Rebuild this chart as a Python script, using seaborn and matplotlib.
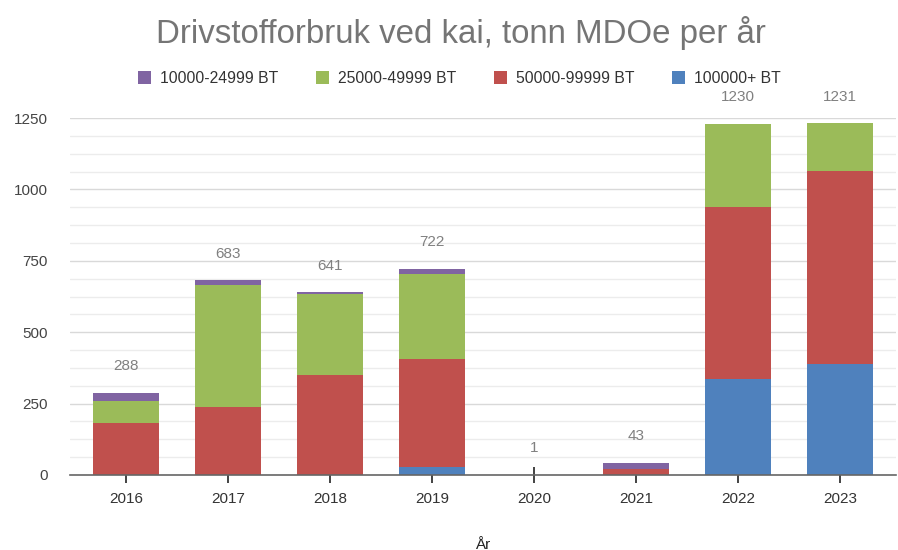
import matplotlib
matplotlib.use("Agg")
import matplotlib.pyplot as plt
import seaborn as sns
import pandas as pd
import numpy as np
from matplotlib.patches import Patch
from matplotlib.ticker import MultipleLocator

years = ["2016", "2017", "2018", "2019", "2020", "2021", "2022", "2023"]
series_names = ["10000-24999 BT", "25000-49999 BT", "50000-99999 BT", "100000+ BT"]
v_10k = [29, 18, 8, 19, 1, 22, 0, 0]
v_25k = [78, 426, 284, 297, 0, 0, 291, 168]
v_50k = [181, 239, 349, 379, 0, 21, 604, 675]
v_100k = [0, 0, 0, 27, 0, 0, 335, 388]
totals = [288, 683, 641, 722, 1, 43, 1230, 1231]
colors = ["#8064a2", "#9bbb59", "#c0504d", "#4f81bd"]

sns.set_theme(style="white")
plt.rcParams['font.family'] = ['Liberation Sans', 'DejaVu Sans']

df = pd.DataFrame({"year": years, "b": v_100k, "r": v_50k, "g": v_25k, "p": v_10k})
df["cum_b"] = df["b"]
df["cum_r"] = df["cum_b"] + df["r"]
df["cum_g"] = df["cum_r"] + df["g"]
df["cum_p"] = df["cum_g"] + df["p"]

fig = plt.figure(figsize=(8.98, 5.50), dpi=100)
ax = fig.add_axes([70/898, 75/550, 826/898, 357/550])

for col, c in zip(["cum_p", "cum_g", "cum_r", "cum_b"], colors):
    sns.barplot(data=df, x="year", y=col, color=c, width=0.65, ax=ax,
                linewidth=0, saturation=1, zorder=3)

ax.set_ylim(0, 1250)
ax.set_xlim(-0.55, 7.55)
ax.yaxis.set_major_locator(MultipleLocator(250))
ax.yaxis.set_minor_locator(MultipleLocator(62.5))
ax.grid(axis="y", which="major", color="#d9d9d9", linewidth=1.0, zorder=0)
ax.grid(axis="y", which="minor", color="#ececec", linewidth=1.0, zorder=0)
ax.set_axisbelow(True)
for s in ["top", "right", "left"]:
    ax.spines[s].set_visible(False)
ax.spines["bottom"].set_color("#666666")
ax.spines["bottom"].set_linewidth(1.2)
ax.spines["bottom"].set_zorder(4)

ax.tick_params(axis="x", which="major", direction="inout", length=12, width=1.2,
               color="#222222", labelsize=11, labelcolor="#333333", pad=6, bottom=True)
ax.tick_params(axis="y", which="both", length=0, labelsize=11, labelcolor="#444444", pad=16)

for i, t in enumerate(totals):
    ax.annotate(str(t), (i, t), xytext=(0, 19), textcoords="offset points",
                ha="center", va="center", fontsize=11, color="#808080")

ax.set_ylabel("")
ax.set_xlabel("År", fontsize=11, color="#222222", labelpad=23)

fig.text(0.513, 0.94, "Drivstofforbruk ved kai, tonn MDOe per år", ha="center", va="center",
         fontsize=23.8, color="#757575")

handles = [Patch(facecolor=c, edgecolor="none", label=n) for c, n in zip(colors, series_names)]
fig.legend(handles=handles, loc="center", bbox_to_anchor=(0.512, 0.858), ncol=4, frameon=False,
           fontsize=11.3, handlelength=0.8, handleheight=0.9, handletextpad=0.6,
           columnspacing=2.4, labelcolor="#333333")

fig.savefig("out.png", dpi=100)
